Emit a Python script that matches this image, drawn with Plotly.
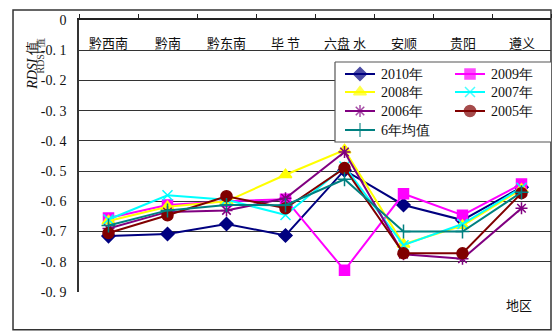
import plotly.graph_objects as go

# Regions along the x axis
regions = ["黔西南", "黔南", "黔东南", "毕 节", "六盘 水", "安顺", "贵阳", "遵义"]

# RDSI values per year
rdsi_2010 = [-0.715, -0.708, -0.675, -0.713, -0.497, -0.612, -0.662, -0.553]
rdsi_2009 = [-0.655, -0.612, -0.600, -0.593, -0.828, -0.575, -0.646, -0.543]
rdsi_2008 = [-0.665, -0.618, -0.600, -0.512, -0.430, -0.742, -0.680, -0.560]
rdsi_2007 = [-0.660, -0.580, -0.595, -0.645, -0.485, -0.745, -0.675, -0.555]
rdsi_2006 = [-0.690, -0.635, -0.630, -0.590, -0.437, -0.775, -0.790, -0.623]
rdsi_2005 = [-0.705, -0.646, -0.583, -0.623, -0.490, -0.772, -0.772, -0.573]
rdsi_mean = [-0.680, -0.630, -0.612, -0.613, -0.527, -0.700, -0.700, -0.570]

y_ticks = [0, -0.1, -0.2, -0.3, -0.4, -0.5, -0.6, -0.7, -0.8, -0.9]
y_tick_text = ["0", "-0. 1", "-0. 2", "-0. 3", "-0. 4", "-0. 5", "-0. 6", "-0. 7", "-0. 8", "-0. 9"]

series = [
    ("2010年", rdsi_2010, "#000080", "diamond", 10),
    ("2009年", rdsi_2009, "#FF00FF", "square", 10),
    ("2008年", rdsi_2008, "#FFFF00", "triangle-up", 11),
    ("2007年", rdsi_2007, "#00FFFF", "x-thin", 10),
    ("2006年", rdsi_2006, "#800080", "asterisk", 10),
    ("2005年", rdsi_2005, "#800000", "circle", 11),
    ("6年均值", rdsi_mean, "#008080", "cross-thin", 10),
]

serif = "Liberation Serif, DejaVu Serif, serif"
cjk = "Noto Sans CJK SC, sans-serif"

fig = go.Figure()
for name, vals, color, symbol, size in series:
    fig.add_trace(go.Scatter(
        x=regions, y=vals, name=name, mode="lines+markers", showlegend=False,
        line=dict(color=color, width=2),
        marker=dict(symbol=symbol, size=size, color=color,
                    line=dict(color=color, width=1.5)),
    ))

# Two-column legend drawn on an overlay axis measured in pixels
LEG_X0, LEG_X1, LEG_Y0, LEG_Y1 = 335, 553, 62, 142
col_x = [345, 455]
row_y = [74, 92, 111, 130]
seg = 30
fig.add_trace(go.Scatter(
    x=[LEG_X0, LEG_X1, LEG_X1, LEG_X0, LEG_X0],
    y=[LEG_Y0, LEG_Y0, LEG_Y1, LEG_Y1, LEG_Y0],
    xaxis="x2", yaxis="y2", mode="lines", fill="toself",
    fillcolor="white", line=dict(color="#555", width=1.2),
    showlegend=False, hoverinfo="skip",
))
annotations = []
for i, (name, vals, color, symbol, size) in enumerate(series):
    cx = col_x[i % 2]
    cy = row_y[i // 2]
    fig.add_trace(go.Scatter(
        x=[cx, cx + seg / 2, cx + seg], y=[cy, cy, cy], xaxis="x2", yaxis="y2",
        mode="lines+markers", showlegend=False, hoverinfo="skip",
        line=dict(color=color, width=2),
        marker=dict(symbol=symbol, size=[0, size, 0], color=color,
                    line=dict(color=color, width=1.5)),
    ))
    annotations.append(dict(x=cx + seg + 4, y=cy, xref="x2", yref="y2",
                            text=name, xanchor="left", showarrow=False,
                            font=dict(family=serif, size=14, color="#111")))

# Region labels sit just under the top axis line, inside the plot
annotations += [
    dict(x=r, y=-0.076, xref="x", yref="y", text=r, showarrow=False,
         font=dict(family=cjk, size=13, color="#111"))
    for r in regions
]
annotations += [
    dict(x=-0.119, y=0.93, xref="paper", yref="paper", text="<i>RDSI</i> 值",
         textangle=-90, showarrow=False,
         font=dict(family=serif, size=14, color="#111")),
    dict(x=-0.097, y=0.94, xref="paper", yref="paper", text="RDSI 值",
         textangle=-90, showarrow=False,
         font=dict(family=serif, size=10, color="#333")),
    dict(x=0.965, y=-0.09, xref="paper", yref="paper", text="地区",
         showarrow=False, font=dict(family=cjk, size=13, color="#111")),
]

shapes = [dict(type="rect", xref="paper", yref="paper",
               x0=-0.1398, x1=1.0, y0=-0.139, y1=1.0368,
               line=dict(color="#333", width=1.5), layer="below")]

fig.update_layout(
    width=553, height=331,
    margin=dict(l=79, r=2, t=20, b=39),
    paper_bgcolor="white", plot_bgcolor="white",
    showlegend=False,
    xaxis=dict(
        type="category", side="top", range=[-0.5, 7.5],
        showline=True, linecolor="#222", linewidth=1.5, mirror=False,
        ticks="outside", tickson="boundaries", ticklen=4, tickcolor="#222",
        showticklabels=False, showgrid=False, zeroline=False,
    ),
    yaxis=dict(
        range=[-0.9, 0], tickvals=y_ticks, ticktext=y_tick_text,
        showline=True, linecolor="#333", linewidth=1.5,
        showgrid=True, gridcolor="#333", gridwidth=1, zeroline=False,
        ticks="", ticklabelstandoff=8,
        tickfont=dict(family=serif, size=14, color="#111"),
    ),
    xaxis2=dict(overlaying="x", domain=[0, 1], range=[79, 551], visible=False,
                fixedrange=True),
    yaxis2=dict(overlaying="y", domain=[0, 1], range=[292, 20], visible=False,
                fixedrange=True),
    annotations=annotations,
    shapes=shapes,
)

fig.write_html("out.html")
